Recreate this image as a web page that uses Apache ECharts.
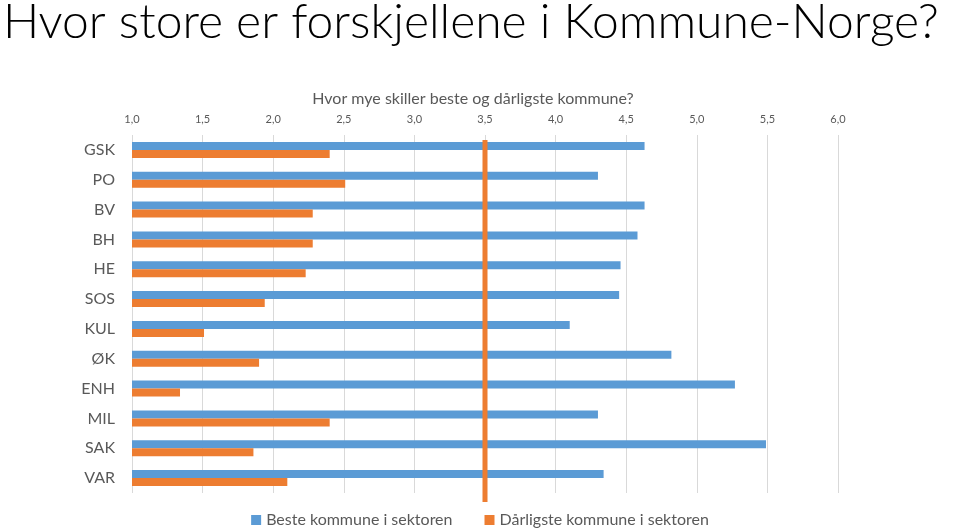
<!DOCTYPE html>
<html>
<head>
<meta charset="utf-8">
<script src="https://cdn.jsdelivr.net/npm/echarts@6/dist/echarts.min.js"></script>
<style>html,body{margin:0;padding:0;background:#fff}#c{width:960px;height:530px}</style>
</head>
<body>
<div id="c"></div>
<script>
const categories = ['GSK','PO','BV','BH','HE','SOS','KUL','ØK','ENH','MIL','SAK','VAR'];
const best = [4.63, 4.30, 4.63, 4.58, 4.46, 4.45, 4.10, 4.82, 5.27, 4.30, 5.49, 4.34];
const worst = [2.40, 2.51, 2.28, 2.28, 2.23, 1.94, 1.51, 1.90, 1.34, 2.40, 1.86, 2.10];
const refValue = 3.5;
const seriesNames = ['Beste kommune i sektoren', 'Dårligste kommune i sektoren'];
const mainTitle = 'Hvor store er forskjellene i Kommune-Norge?';
const subTitle = 'Hvor mye skiller beste og dårligste kommune?';

const FONT = 'Lato';
const chart = echarts.init(document.getElementById('c'));
chart.setOption({
  animation: false,
  textStyle: { fontFamily: FONT },
  title: [
    { text: mainTitle, left: -2, top: -6, textStyle: { fontFamily: FONT, fontSize: 48, fontWeight: 300, color: '#000' } },
    { text: subTitle, left: 468, textAlign: 'center', top: 86, textStyle: { fontFamily: FONT, fontSize: 16, fontWeight: 'normal', color: '#595959' } }
  ],
  legend: {
    bottom: -3, left: 'center',
    itemWidth: 10, itemHeight: 10, itemGap: 32,
    icon: 'rect',
    textStyle: { fontFamily: FONT, fontSize: 16, color: '#595959' },
    data: seriesNames
  },
  grid: { left: 132, right: 122, top: 135, bottom: 37 },
  xAxis: {
    type: 'value', position: 'top', min: 1, max: 6, interval: 0.5,
    axisLine: { show: false }, axisTick: { show: false },
    axisLabel: { color: '#595959', fontSize: 11, margin: 10, formatter: v => v.toFixed(1).replace('.', ',') },
    splitLine: { lineStyle: { color: '#d9d9d9', width: 1 } }
  },
  yAxis: {
    type: 'category', data: categories, inverse: true,
    axisLine: { show: false }, axisTick: { show: false },
    axisLabel: { color: '#595959', fontSize: 16, margin: 17 }
  },
  series: [
    { name: seriesNames[0], type: 'bar', data: best, barWidth: 8, barGap: '0%', itemStyle: { color: '#5B9BD5' } },
    { name: seriesNames[1], type: 'bar', data: worst, barWidth: 8, barGap: '0%', itemStyle: { color: '#ED7D31' } },
    {
      type: 'custom', name: 'ref', data: [[refValue]], silent: true, z: 5,
      encode: { x: 0 },
      renderItem: function (params, api) {
        const x = api.coord([api.value(0), 0])[0];
        const cs = params.coordSys;
        return { type: 'line', shape: { x1: x, y1: cs.y + 5, x2: x, y2: cs.y + cs.height + 9 }, style: { stroke: '#ED7D31', lineWidth: 5 } };
      }
    }
  ]
});
</script>
</body>
</html>
